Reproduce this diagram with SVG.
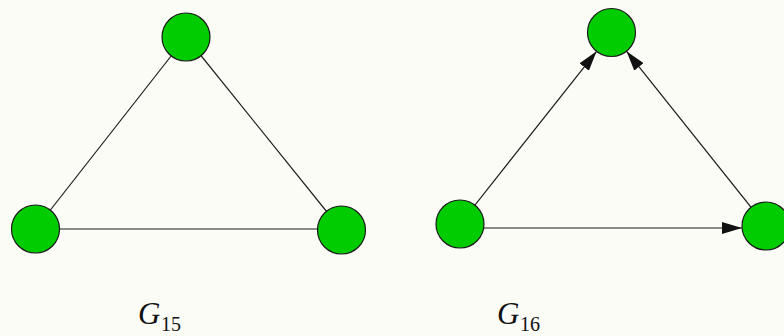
<svg xmlns="http://www.w3.org/2000/svg" width="784" height="336" viewBox="0 0 784 336">
<style>
.node{fill:#00cc00;stroke:#1a1a1a;stroke-width:1.2}
.edge{stroke:#1a1a1a;stroke-width:1.2;fill:none}
.lbl{font-family:"Liberation Serif","DejaVu Serif",serif;fill:#111}
</style>
<defs>
<marker id="arr" markerUnits="userSpaceOnUse" markerWidth="20" markerHeight="12" refX="20" refY="6" orient="auto">
<path d="M0,0 L20,6 L0,12 z" fill="#111"/>
</marker>
</defs>
<rect width="784" height="336" fill="#fcfcf7"/>
<g id="connectors">
<line class="edge" x1="186" y1="37" x2="35.5" y2="229"/>
<line class="edge" x1="186" y1="37" x2="341.5" y2="230"/>
<line class="edge" x1="35.5" y1="229" x2="341.5" y2="229"/>
<line class="edge" x1="460" y1="224" x2="596.6" y2="51.3" marker-end="url(#arr)"/>
<line class="edge" x1="766" y1="226" x2="626.5" y2="51.2" marker-end="url(#arr)"/>
<line class="edge" x1="484" y1="228" x2="742" y2="228" marker-end="url(#arr)"/>
</g>
<g id="g15-top"><circle class="node" cx="186" cy="37" r="24"/></g>
<g id="g15-left"><circle class="node" cx="35.5" cy="229" r="24"/></g>
<g id="g15-right"><circle class="node" cx="341.5" cy="230" r="24"/></g>
<g id="g16-top"><circle class="node" cx="611.5" cy="32.5" r="24"/></g>
<g id="g16-left"><circle class="node" cx="460" cy="224" r="24"/></g>
<g id="g16-right"><circle class="node" cx="766" cy="226" r="24"/></g>
<g id="label-g15"><text class="lbl" x="138" y="324" font-size="31" font-style="italic">G</text><text class="lbl" x="161" y="331" font-size="20">15</text></g>
<g id="label-g16"><text class="lbl" x="497" y="324" font-size="31" font-style="italic">G</text><text class="lbl" x="520" y="331" font-size="20">16</text></g>
</svg>
